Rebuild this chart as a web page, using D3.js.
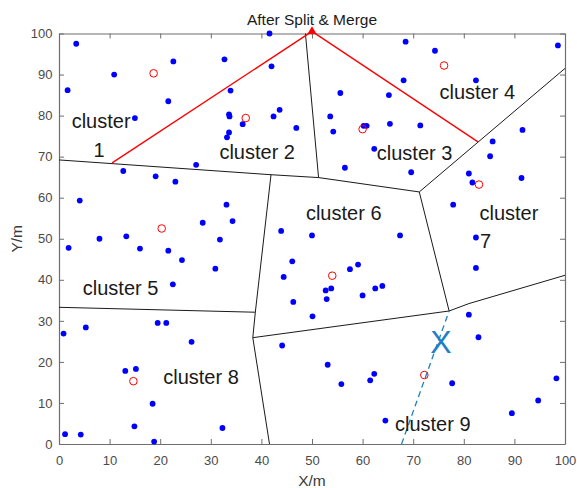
<!DOCTYPE html>
<html>
<head>
<meta charset="utf-8">
<script src="https://cdn.jsdelivr.net/npm/d3@7"></script>
<style>
  body { margin: 0; background: #fff; }
  svg { display: block; font-family: "Liberation Sans", Arial, sans-serif; }
  .axis path, .axis line { stroke: #6e6e6e; }
  .axis text { fill: #4a4a4a; font-size: 13px; }
</style>
</head>
<body>
<svg id="chart" width="577" height="488"></svg>
<script>
// sensor nodes (x, y in metres)
const nodes = [
  [3.4, 97.5], [1.7, 86.2], [10.9, 90], [22.6, 93.2], [21.6, 83.5], [15, 79.4],
  [32.7, 93.7], [41.6, 100], [42, 92], [33.9, 86.1], [33.6, 80.3], [33.7, 79.8],
  [33.6, 75.9], [33.2, 74.7], [36.3, 77.9], [42.4, 79.8], [43.6, 81.4], [46.9, 77],
  [27.1, 68], [55.6, 85.5], [65.2, 85], [53.6, 79.8], [54.2, 76.1], [60.2, 77.5],
  [60.8, 77.5], [65.4, 78], [71.4, 77.6], [62.3, 71.9], [56.5, 67.3], [69.6, 66.2],
  [68.5, 98], [74.3, 95.8], [98.6, 97.1], [68.1, 88.6], [82.4, 88.6], [91.6, 76.5],
  [85.7, 73.7], [85.2, 70.1], [91.4, 64.8], [81, 65.9], [81.7, 63.7], [77.9, 58.3],
  [82.4, 50.3], [82.4, 42.9], [12.7, 66.5], [19.1, 65.2], [23, 63.9], [4.1, 59.3],
  [33.1, 58.3], [34.3, 54.3], [28.4, 53.9], [8, 50], [13.3, 50.6], [31.8, 49.8],
  [1.9, 47.8], [16, 47.6], [21.6, 47.1], [24.3, 44.8], [30.9, 42.7], [22.5, 38.9],
  [43.9, 51.9], [50, 50.8], [67.4, 50.8], [46.1, 44.5], [44.4, 40.7], [46.3, 34.6],
  [57.5, 42.6], [59.1, 43.7], [52.7, 37.4], [53.8, 37.9], [52.9, 35.3], [60, 36.2],
  [62.5, 37.9], [63.9, 38.5], [50.1, 31.1], [0.9, 26.9], [5.3, 28.4], [19.5, 29.5],
  [21.2, 29.5], [26.2, 24.9], [13.1, 17.8], [15.2, 18.3], [18.5, 9.8], [14.9, 4.3],
  [18.8, 0.6], [1.2, 2.4], [4.3, 2.3], [32.3, 3.9], [44.1, 24], [81, 31.5],
  [82.9, 26], [53.1, 19.3], [55.8, 14.6], [61.5, 15.5], [62.3, 17.1], [77.7, 14.8],
  [98.3, 16], [94.7, 10.6], [89.5, 7.5], [64.5, 5.7]
]

// cluster heads
const heads = [
  [18.7, 90.3], [36.9, 79.4], [60, 76.7], [76.1, 92.2], [20.3, 52.5],
  [54, 41], [83, 63.2], [14.7, 15.3], [72.2, 16.8]
]

// cluster borders after split & merge
const borders = [
  [[0, 69.2], [41.9, 65.6], [51.3, 64.9], [71.2, 61.4]],
  [[48.7, 100], [51.3, 64.9]],
  [[71.2, 61.4], [100, 91.5]],
  [[71.2, 61.4], [77.1, 32.4]],
  [[41.9, 65.6], [38.8, 32.1], [38.3, 25.9], [41.6, 0]],
  [[0, 33.3], [38.8, 32.1]],
  [[38.3, 25.9], [77.1, 32.4], [81, 34.2], [100, 41.1]]
]

const sink = [50, 100.5]
const sinkPath = [[10.5, 68.5], sink, [82.8, 73.6]]
const cutPath = [[67.7, 0], [77.1, 32.4]]
const cutMark = { text: 'X', x: 75.5, y: 22.2 }

const labels = [
  { text: 'cluster', x: 2.5, y: 77 },
  { text: '1', x: 6.8, y: 70 },
  { text: 'cluster 2', x: 31.7, y: 69.4 },
  { text: 'cluster 3', x: 62.8, y: 69.2 },
  { text: 'cluster 4', x: 75.2, y: 84 },
  { text: 'cluster 5', x: 4.7, y: 36.3 },
  { text: 'cluster 6', x: 48.8, y: 54.6 },
  { text: 'cluster', x: 83.1, y: 54.6 },
  { text: '7', x: 83.2, y: 47.7 },
  { text: 'cluster 8', x: 20.6, y: 14.6 },
  { text: 'cluster 9', x: 66.4, y: 3.2 }
]

const xTicks = [0, 10, 20, 30, 40, 50, 60, 70, 80, 90, 100]
const yTicks = [0, 10, 20, 30, 40, 50, 60, 70, 80, 90, 100]

const plotLeft = 59
const plotRight = 565
const plotTop = 33.5
const plotBottom = 444

let svg = d3.select('#chart')

let x = d3.scaleLinear().domain([0, 100]).range([plotLeft, plotRight])
let y = d3.scaleLinear().domain([0, 100]).range([plotBottom, plotTop])

// box with inward ticks on all four sides
svg.append('g')
  .attr('class', 'axis axis-x')
  .attr('transform', `translate(0,${plotBottom})`)
  .call(d3.axisBottom(x).tickValues(xTicks).tickSizeInner(-5).tickSizeOuter(0).tickPadding(11.5))
svg.append('g')
  .attr('class', 'axis axis-x-top')
  .attr('transform', `translate(0,${plotTop})`)
  .call(d3.axisTop(x).tickValues(xTicks).tickSizeInner(-5).tickSizeOuter(0).tickFormat(''))
svg.append('g')
  .attr('class', 'axis axis-y')
  .attr('transform', `translate(${plotLeft},0)`)
  .call(d3.axisLeft(y).tickValues(yTicks).tickSizeInner(-5).tickSizeOuter(0).tickPadding(6.5))
svg.append('g')
  .attr('class', 'axis axis-y-right')
  .attr('transform', `translate(${plotRight},0)`)
  .call(d3.axisRight(y).tickValues(yTicks).tickSizeInner(-5).tickSizeOuter(0).tickFormat(''))

svg.selectAll('.axis .domain').attr('stroke-width', 1.2)

let line = d3.line().x(d => x(d[0])).y(d => y(d[1]))

// borders
svg.append('g')
  .selectAll('path')
  .data(borders)
  .join('path')
  .attr('d', line)
  .attr('fill', 'none')
  .attr('stroke', '#1a1a1a')
  .attr('stroke-width', 1)

// route to sink
svg.append('path')
  .attr('d', line(sinkPath))
  .attr('fill', 'none')
  .attr('stroke', '#ff0000')
  .attr('stroke-width', 1.4)

// broken link
svg.append('path')
  .attr('d', line(cutPath))
  .attr('fill', 'none')
  .attr('stroke', '#1f7fc4')
  .attr('stroke-width', 1.3)
  .attr('stroke-dasharray', '6,4')

svg.append('text')
  .attr('x', x(cutMark.x))
  .attr('y', y(cutMark.y))
  .attr('text-anchor', 'middle')
  .attr('font-size', 32)
  .attr('fill', '#1f7fc4')
  .text(cutMark.text)

// nodes
svg.append('g')
  .selectAll('circle')
  .data(nodes)
  .join('circle')
  .attr('cx', d => x(d[0]))
  .attr('cy', d => y(d[1]))
  .attr('r', 2.9)
  .attr('fill', '#0000ff')

// cluster heads
svg.append('g')
  .selectAll('circle')
  .data(heads)
  .join('circle')
  .attr('cx', d => x(d[0]))
  .attr('cy', d => y(d[1]))
  .attr('r', 3.8)
  .attr('fill', 'none')
  .attr('stroke', '#ff0000')
  .attr('stroke-width', 1)

svg.append('path')
  .attr('d', d3.symbol(d3.symbolTriangle, 36)())
  .attr('transform', `translate(${x(sink[0])},${y(sink[1])})`)
  .attr('fill', '#ff0000')

// cluster labels
svg.append('g')
  .selectAll('text')
  .data(labels)
  .join('text')
  .attr('x', d => x(d.x))
  .attr('y', d => y(d.y))
  .attr('font-size', 20)
  .attr('fill', '#1a1a1a')
  .text(d => d.text)

// titles
svg.append('text')
  .attr('x', (plotLeft + plotRight) / 2)
  .attr('y', 25)
  .attr('text-anchor', 'middle')
  .attr('font-size', 15.5)
  .attr('fill', '#1a1a1a')
  .text('After Split & Merge')

svg.append('text')
  .attr('x', (plotLeft + plotRight) / 2)
  .attr('y', 486)
  .attr('text-anchor', 'middle')
  .attr('font-size', 15.5)
  .attr('fill', '#3a3a3a')
  .text('X/m')

svg.append('text')
  .attr('transform', `translate(21.5,${(plotTop + plotBottom) / 2}) rotate(-90)`)
  .attr('text-anchor', 'middle')
  .attr('font-size', 15.5)
  .attr('fill', '#3a3a3a')
  .text('Y/m')
</script>
</body>
</html>
